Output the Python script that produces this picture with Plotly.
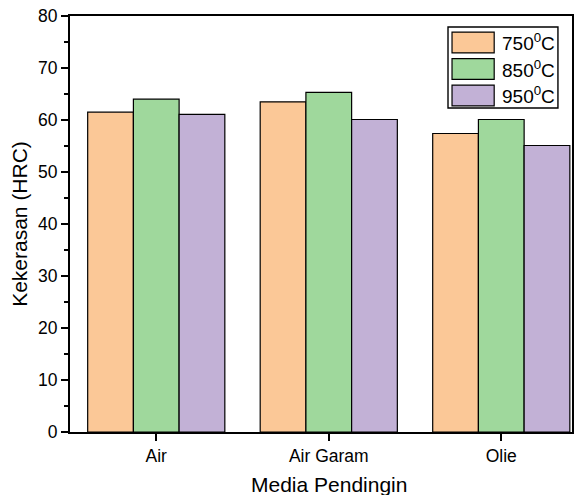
import plotly.graph_objects as go

categories = ["Air", "Air Garam", "Olie"]
series_names = ["750<sup>0</sup>C", "850<sup>0</sup>C", "950<sup>0</sup>C"]
v750 = [61.5, 63.5, 57.4]
v850 = [64.0, 65.3, 60.1]
v950 = [61.1, 60.1, 55.1]
colors = ["#FBC897", "#9FD89C", "#C2B1D6"]
y_ticks = [0, 10, 20, 30, 40, 50, 60, 70, 80]

FONT = "Liberation Sans, Arial, sans-serif"
fig = go.Figure()
for name, vals, col in zip(series_names, [v750, v850, v950], colors):
    fig.add_trace(go.Bar(x=categories, y=vals, name=name, marker=dict(color=col, line=dict(color="black", width=1.2)), showlegend=False))

fig.update_layout(
    width=578, height=495,
    margin=dict(l=70, r=6, t=16, b=63, autoexpand=False),
    plot_bgcolor="white", paper_bgcolor="white",
    barmode="group", bargap=0.205, bargroupgap=0,
    font=dict(family=FONT, color="black", size=17.5),
    showlegend=False,
)
fig.update_xaxes(
    range=[-0.5, 2.41], showline=True, linecolor="black", linewidth=2, mirror=True, automargin=False,
    ticks="outside", ticklen=7, tickwidth=2, tickcolor="black",
    minor=dict(ticks="outside", ticklen=4, tickwidth=2, tickcolor="black", dtick=1, tick0=0.5),
    tickfont=dict(size=17.5),
)
fig.update_yaxes(
    range=[0, 80], tickvals=y_ticks, showline=True, linecolor="black", linewidth=2, mirror=True, automargin=False,
    ticks="outside", ticklen=7, tickwidth=2, tickcolor="black", showgrid=False, zeroline=False,
    minor=dict(ticks="outside", ticklen=4, tickwidth=2, tickcolor="black", dtick=5),
    title=dict(text="Kekerasan (HRC)", font=dict(size=21), standoff=5),
    tickfont=dict(size=17.5),
)

# x-axis title as annotation (placed like the reference, partly at the bottom edge)
fig.add_annotation(xref="paper", yref="paper", x=0.516, y=-0.158, text="Media Pendingin", showarrow=False,
                   xanchor="center", yanchor="bottom", font=dict(size=21, family=FONT))

# legend box (paper coords)
fig.add_shape(type="rect", xref="paper", yref="paper", x0=0.753, x1=0.972, y0=0.779, y1=0.9736,
              line=dict(color="black", width=1.4), fillcolor="white")
for i, (name, col) in enumerate(zip(series_names, colors)):
    yc = 0.9363 - i * 0.0637
    fig.add_shape(type="rect", xref="paper", yref="paper", x0=0.761, x1=0.845, y0=yc - 0.025, y1=yc + 0.025,
                  line=dict(color="black", width=1.2), fillcolor=col)
    fig.add_annotation(xref="paper", yref="paper", x=0.857, y=yc, text=name, showarrow=False,
                       xanchor="left", yanchor="middle", font=dict(size=19, family=FONT))

fig.write_html("out.html", config={"displayModeBar": False},
               post_script="document.body.style.margin='0';document.body.style.overflow='hidden';")
